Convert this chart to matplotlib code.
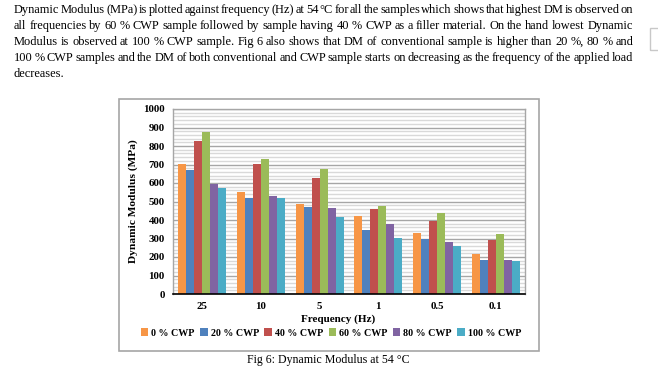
import matplotlib
matplotlib.use("Agg")
import matplotlib.pyplot as plt
from matplotlib.patches import Patch, Rectangle
import numpy as np

freqs = ['25', '10', '5', '1', '0.5', '0.1']
series = ['0 % CWP', '20 % CWP', '40 % CWP', '60 % CWP', '80 % CWP', '100 % CWP']
cwp0 = [703, 551, 486, 422, 330, 216]
cwp20 = [670, 519, 470, 346, 299, 184]
cwp40 = [827, 703, 627, 459, 395, 292]
cwp60 = [876, 730, 676, 477, 438, 324]
cwp80 = [595, 530, 465, 380, 281, 184]
cwp100 = [573, 519, 416, 303, 259, 178]
colors = ['#F79646', '#4F81BD', '#C0504D', '#9BBB59', '#8064A2', '#4BACC6']

paragraph = [
    "Dynamic Modulus (MPa) is plotted against frequency (Hz) at 54 \u00b0C for all the samples which shows that highest DM is observed on",
    "all frequencies by 60 % CWP sample followed by sample having 40 % CWP as a filler material. On the hand lowest Dynamic",
    "Modulus is observed at 100 % CWP sample. Fig 6 also shows that DM of conventional sample is higher than 20 %, 80 % and",
    "100 % CWP samples and the DM of both conventional and CWP sample starts on decreasing as the frequency of the applied load",
    "decreases.",
]
caption = "Fig 6: Dynamic Modulus at 54 \u00b0C"

W, H = 658, 370
plt.rcParams['font.family'] = ['Liberation Serif', 'DejaVu Serif']
fig = plt.figure(figsize=(W / 100, H / 100), dpi=100)
renderer = fig.canvas.get_renderer()

# paragraph, justified by hand
left_px, right_px = 14, 633
for i, line in enumerate(paragraph):
    y = 1 - (10 + 16 * i) / H
    words = line.split(' ')
    texts = [fig.text(0, y, w, fontsize=8.9, va='center', ha='left') for w in words]
    widths = [t.get_window_extent(renderer).width for t in texts]
    if i < len(paragraph) - 1 and len(words) > 1:
        gap = (right_px - left_px - sum(widths)) / (len(words) - 1)
    else:
        gap = 3.0
    x = left_px
    for t, w in zip(texts, widths):
        t.set_x(x / W)
        x += w + gap

# little word-processor widget at the right edge
fig.patches.append(Rectangle((650 / W, 1 - 50 / H), 12 / W, 22 / H, transform=fig.transFigure,
                             fill=False, edgecolor='#C8C8C8', lw=1))

# chart frame
fig.patches.append(Rectangle((119 / W, 1 - 351 / H), 420 / W, 252 / H, transform=fig.transFigure,
                             fill=False, edgecolor='#A6A6A6', lw=1.2))

ax = fig.add_axes([173 / W, 1 - 294 / H, 352 / W, 185 / H])
data = [cwp0, cwp20, cwp40, cwp60, cwp80, cwp100]
x = np.arange(len(freqs))
bw = 0.137
for k, (vals, c) in enumerate(zip(data, colors)):
    ax.bar(x + (k - 2.5) * bw, vals, width=bw, color=c, zorder=3, linewidth=0)

ax.set_xlim(-0.5, len(freqs) - 0.5)
ax.set_ylim(0, 1000)
ax.set_yticks(np.arange(0, 1001, 100))
ax.set_yticks(np.arange(0, 1001, 20), minor=True)
ax.grid(axis='y', which='minor', color='#D9D9D9', lw=1.0, zorder=0)
ax.grid(axis='y', which='major', color='#A6A6A6', lw=1.0, zorder=1)
ax.set_xticks(x)
ax.set_xticklabels(freqs)
ax.tick_params(axis='both', length=0, labelsize=7.8, pad=6)
ax.tick_params(axis='y', which='minor', length=0)
for lab in ax.get_xticklabels() + ax.get_yticklabels():
    lab.set_fontweight('bold')
for s in ['top', 'right', 'left']:
    ax.spines[s].set_color('#A6A6A6')
    ax.spines[s].set_linewidth(1.0)
ax.spines['bottom'].set_color('black')
ax.spines['bottom'].set_linewidth(1.2)
ax.spines['bottom'].set_zorder(4)

fig.text(338 / W, 1 - 319 / H, 'Frequency (Hz)', ha='center', va='center', fontsize=8, fontweight='bold')
fig.text(133 / W, 1 - 201 / H, 'Dynamic Modulus (MPa)', ha='center', va='center', rotation=90,
         fontsize=8.2, fontweight='bold')

handles = [Patch(facecolor=c, edgecolor='none') for c in colors]
fig.legend(handles, series, loc='center', bbox_to_anchor=(331 / W, 1 - 333 / H), ncol=6, frameon=False,
           prop={'weight': 'bold', 'size': 7.2}, handlelength=0.75, handleheight=0.75, handletextpad=0.3,
           columnspacing=0.55, borderaxespad=0, borderpad=0)

fig.text(328 / W, 1 - 360 / H, caption, ha='center', va='center', fontsize=8.6)

fig.savefig('out.png', dpi=100)
